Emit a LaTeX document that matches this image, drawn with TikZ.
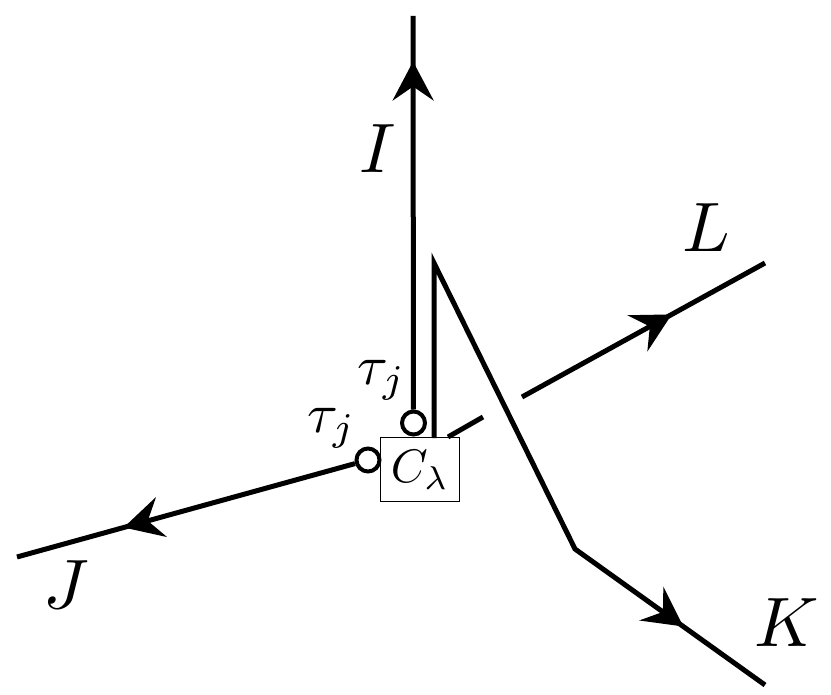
\documentclass[tikz,border=0pt]{standalone}
\usepackage{graphicx}
\usetikzlibrary{arrows.meta,decorations.markings}
\tikzset{
  wire/.style={line width=5pt},
  tipmark/.style={postaction={decorate},decoration={markings,
     mark=at position #1 with {\arrow{Stealth[length=39pt,width=41pt,inset=14pt]}}}},
  port/.style={circle,draw,line width=4pt,minimum size=23pt,inner sep=0pt,fill=white},
  bigl/.style={inner sep=0pt},
  taul/.style={inner sep=0pt},
}
\begin{document}
\begin{tikzpicture}[x=1pt,y=-1pt]
\useasboundingbox (0,0) rectangle (831,695);
% coordinates
\coordinate (Itop) at (413,16);
\coordinate (Jend) at (17,557);
\coordinate (Lstart) at (448,437);
\coordinate (g1) at (483,417);
\coordinate (g2) at (522,397);
\coordinate (Lend) at (765,263);
\coordinate (Kbot) at (434,438);
\coordinate (Ktop) at (434,263);
\coordinate (Kmid) at (575,549);
\coordinate (Kend) at (765,685);
% box
\node[draw,line width=1.6pt,minimum width=79pt,minimum height=64pt,inner sep=0pt] (C) at (420,469.5) {\scalebox{4.7}{$C_\lambda$}};
% ports
\node[port] (ct) at (413.5,423) {};
\node[port] (cl) at (368,460) {};
% connectors
\draw[wire,tipmark=348pt] (ct) -- (Itop);
\draw[wire,tipmark=240pt] (cl) -- (Jend);
\draw[wire] (Lstart) -- (g1);
\draw[wire,tipmark=171pt] (g2) -- (Lend);
\draw[wire,tipmark=627pt] (Kbot) -- (Ktop) -- (Kmid) -- (Kend);
% labels
\node[bigl] (lI) at (378,149) {\scalebox{7}{$I$}};
\node[bigl] (lJ) at (66,585) {\scalebox{7}{$J$}};
\node[bigl] (lK) at (787,623) {\scalebox{7}{$K$}};
\node[bigl] (lL) at (706,228) {\scalebox{7}{$L$}};
\node[taul] (t1) at (382,380) {\scalebox{5.6}{$\tau_j$}};
\node[taul] (t2) at (332,428) {\scalebox{5.6}{$\tau_j$}};
\end{tikzpicture}
\end{document}
